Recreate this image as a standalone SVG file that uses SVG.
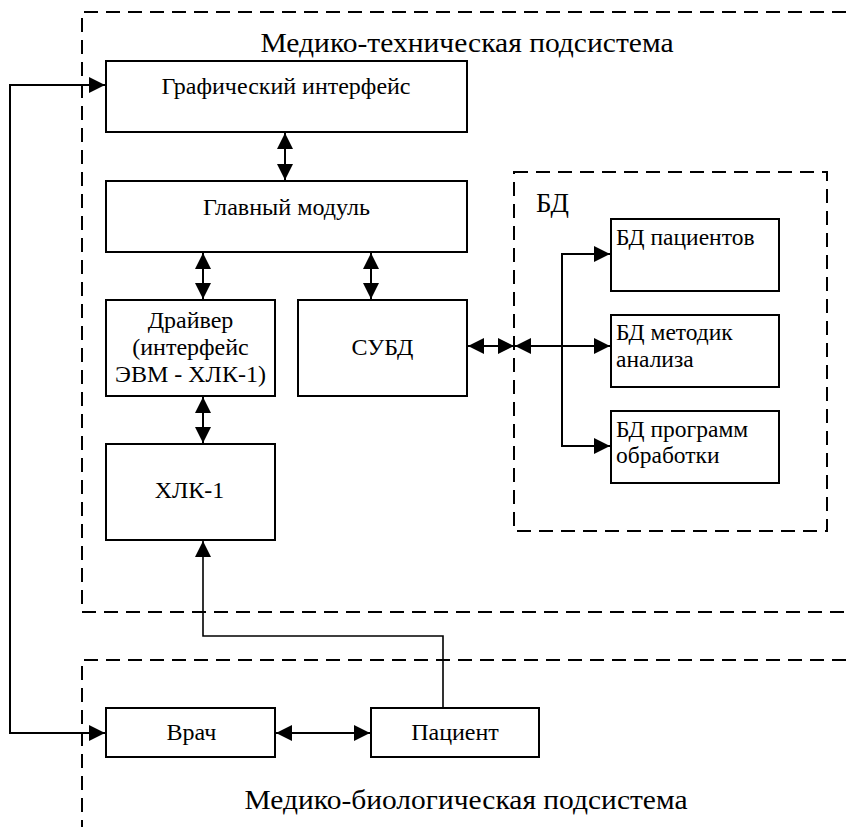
<svg xmlns="http://www.w3.org/2000/svg" width="846" height="827" viewBox="0 0 846 827" font-family="Liberation Serif, Times New Roman, serif">
<style>
.box{fill:#fff;stroke:#000;stroke-width:2}
.dash{fill:none;stroke:#000;stroke-width:2;stroke-dasharray:14 8}
.ln{fill:none;stroke:#000;stroke-width:2}
.t{font-size:24px;text-anchor:middle;fill:#000}
.ts{font-size:23.5px;fill:#000}
.title{font-size:28px;text-anchor:middle;fill:#000}
</style>
<defs>
<marker id="ah" markerUnits="userSpaceOnUse" markerWidth="18" markerHeight="18" refX="16" refY="8" orient="auto-start-reverse">
<path d="M0,0 L16,8 L0,16 z" fill="#000"/>
</marker>
</defs>
<rect width="846" height="827" fill="#fff"/>
<g id="subsystems">
<path class="dash" d="M846,12 H82 V612 H846"/>
<path class="dash" d="M846,660 H82 V827"/>
<text class="title" font-family="Liberation Serif" x="467" y="52" textLength="413" lengthAdjust="spacingAndGlyphs">Медико-техническая подсистема</text>
<text class="title" font-family="Liberation Serif" x="466" y="809" textLength="443" lengthAdjust="spacingAndGlyphs">Медико-биологическая подсистема</text>
</g>
<g id="db-group">
<rect class="dash" x="514" y="172" width="313" height="359"/>
<text font-family="Liberation Serif" x="536" y="212" font-size="27">БД</text>
</g>
<g id="gui"><rect class="box" x="106" y="61" width="361" height="71"/><text class="t" font-family="Liberation Serif" x="286" y="94" textLength="249" lengthAdjust="spacingAndGlyphs">Графический интерфейс</text></g>
<g id="main"><rect class="box" x="106" y="181" width="361" height="71"/><text class="t" font-family="Liberation Serif" x="286.5" y="215" textLength="167" lengthAdjust="spacingAndGlyphs">Главный модуль</text></g>
<g id="driver"><rect class="box" x="106" y="300" width="169" height="96"/>
<text class="t" font-family="Liberation Serif" x="190.5" y="328">Драйвер</text><text class="t" font-family="Liberation Serif" x="190.5" y="355">(интерфейс</text><text class="t" font-family="Liberation Serif" x="190.5" y="382">ЭВМ - ХЛК-1)</text></g>
<g id="dbms"><rect class="box" x="298" y="300" width="169" height="96"/><text class="t" font-family="Liberation Serif" x="382.5" y="355">СУБД</text></g>
<g id="hlk"><rect class="box" x="106" y="444" width="169" height="96"/><text class="t" font-family="Liberation Serif" x="189.5" y="498">ХЛК-1</text></g>
<g id="db-patients"><rect class="box" x="611" y="219" width="168" height="72"/><text class="ts" font-family="Liberation Serif" x="616" y="245">БД пациентов</text></g>
<g id="db-methods"><rect class="box" x="611" y="315" width="168" height="72"/><text class="ts" font-family="Liberation Serif" x="616" y="340">БД методик</text><text class="ts" font-family="Liberation Serif" x="616" y="367">анализа</text></g>
<g id="db-programs"><rect class="box" x="611" y="411" width="168" height="72"/><text class="ts" font-family="Liberation Serif" x="616" y="437">БД программ</text><text class="ts" font-family="Liberation Serif" x="616" y="463">обработки</text></g>
<g id="doctor"><rect class="box" x="106" y="708" width="169" height="49"/><text class="t" font-family="Liberation Serif" x="191.5" y="740">Врач</text></g>
<g id="patient"><rect class="box" x="371" y="708" width="168" height="49"/><text class="t" font-family="Liberation Serif" x="455" y="740">Пациент</text></g>
<g id="connectors">
<line class="ln" x1="285" y1="133" x2="285" y2="180" marker-start="url(#ah)" marker-end="url(#ah)"/>
<line class="ln" x1="203" y1="253" x2="203" y2="299" marker-start="url(#ah)" marker-end="url(#ah)"/>
<line class="ln" x1="371" y1="253" x2="371" y2="299" marker-start="url(#ah)" marker-end="url(#ah)"/>
<line class="ln" x1="203" y1="397" x2="203" y2="443" marker-start="url(#ah)" marker-end="url(#ah)"/>
<line class="ln" x1="468" y1="346" x2="514" y2="346" marker-start="url(#ah)" marker-end="url(#ah)"/>
<line class="ln" x1="515" y1="346" x2="610" y2="346" marker-start="url(#ah)" marker-end="url(#ah)"/>
<path class="ln" d="M610,254 H562 V446 H610" marker-start="url(#ah)" marker-end="url(#ah)"/>
<path class="ln" d="M105,85 H10 V733 H105" marker-start="url(#ah)" marker-end="url(#ah)"/>
<line class="ln" x1="276" y1="733" x2="370" y2="733" marker-start="url(#ah)" marker-end="url(#ah)"/>
<path class="ln" d="M443,708 V636 H203 V541" marker-end="url(#ah)" style="stroke-width:1.6"/>
</g>
</svg>
